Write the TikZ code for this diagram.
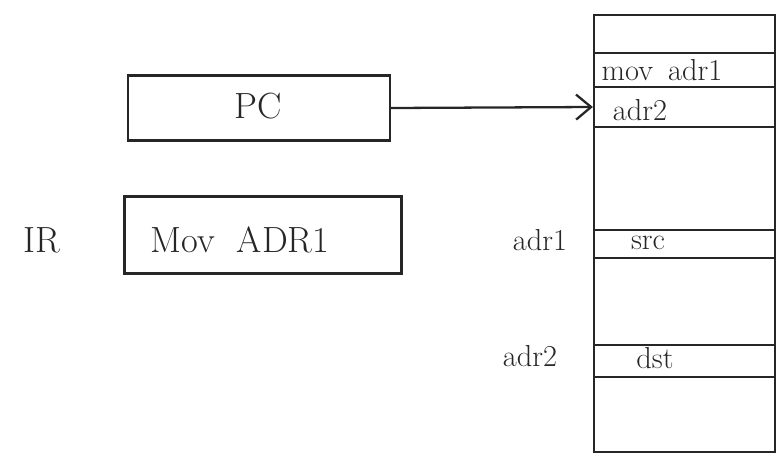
\documentclass[tikz,border=0pt]{standalone}
\usepackage{tikz}
\usetikzlibrary{arrows.meta,positioning}
\tikzset{
  box/.style={rectangle,draw,line width=1.3pt,inner sep=0pt},
  cell/.style={rectangle,draw,line width=1.3pt,inner sep=0pt,minimum width=3.62cm},
  txt/.style={font=\huge,text=black!85},
  memtxt/.style={font=\LARGE,text=black!85}
}
\begin{document}
\begin{tikzpicture}[x=0.02cm,y=-0.02cm,color=black!85]
\useasboundingbox (0,0) rectangle (784,467);
% Registers
\node[box,minimum width=5.24cm,minimum height=1.3cm] (pc) at (259,108) {};
\node[txt] (pctxt) at (258,106) {PC};
\node[box,minimum width=5.54cm,minimum height=1.54cm] (ir) at (263,235) {};
\node[txt] (irtxt) at (240,240) {Mov\hspace{0.6em}ADR1};
\node[txt] (irlbl) at (42,240) {IR};

% Memory
\node[box,minimum width=3.62cm,minimum height=8.74cm] (mem) at (684.5,233.5) {};
\node[cell,minimum height=0.68cm] (c1) at (684.5,70) {};
\node[cell,minimum height=0.8cm] (c2) at (684.5,107) {};
\node[cell,minimum height=0.56cm] (c3) at (684.5,244) {};
\node[cell,minimum height=0.64cm] (c4) at (684.5,361) {};
\node[memtxt] (c1txt) at (662,70) {mov\hspace{0.5em}adr1};
\node[memtxt] (c2txt) at (640,110) {adr2};
\node[memtxt] (c3txt) at (648,243) {src};
\node[memtxt] (c4txt) at (655,358) {dst};
\node[memtxt] (a1) at (540,240) {adr1};
\node[memtxt] (a2) at (530,356) {adr2};

\draw[-{Straight Barb[length=3mm,width=5mm]},line width=1.3pt] (pc.east) -- (c2.west);
\end{tikzpicture}
\end{document}
